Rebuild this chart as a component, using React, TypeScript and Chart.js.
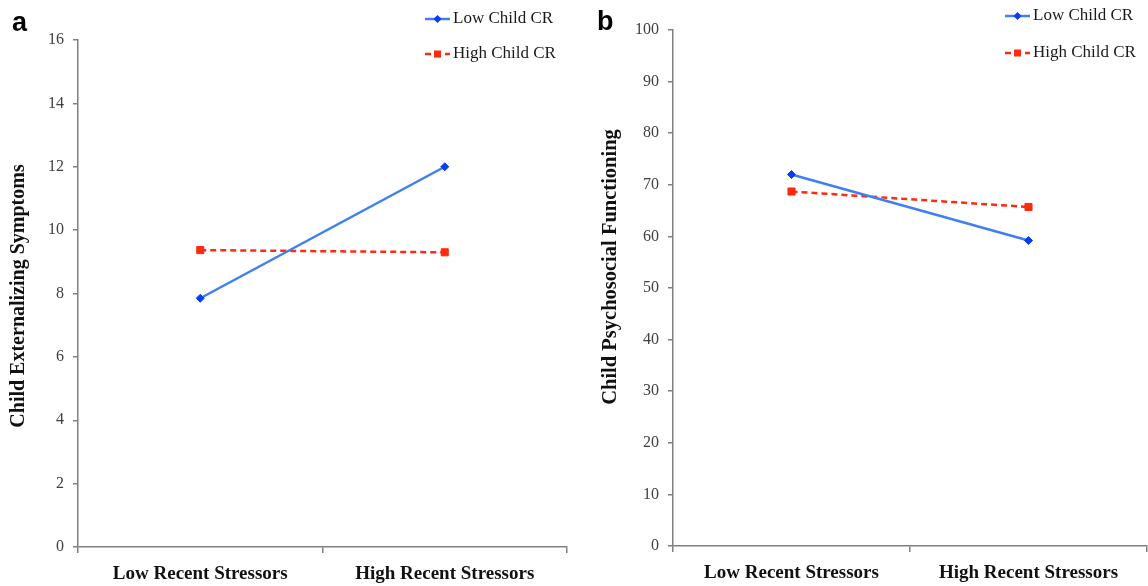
import React, { useEffect, useRef } from 'react';
import { Chart, registerables } from 'chart.js';

Chart.register(...registerables);

// ---- data ----
const categories = ['Low Recent Stressors', 'High Recent Stressors'];
const seriesNames = ['Low Child CR', 'High Child CR'];
const externalizingLowCR = [7.85, 12.0];
const externalizingHighCR = [9.37, 9.3];
const psychosocialLowCR = [72.0, 59.2];
const psychosocialHighCR = [68.7, 65.7];
const externalizingAxis = { max: 16, step: 2 };
const psychosocialAxis = { max: 100, step: 10 };

const SERIF = "'Liberation Serif', 'Times New Roman', serif";
const AXIS_GRAY = '#808080';

const legendPlugin = {
  id: 'lineLegend',
  afterDraw(chart: any, _args: any, opts: any) {
    const ctx = chart.ctx;
    chart.data.datasets.forEach((ds: any, i: number) => {
      const y = opts.y0 + i * opts.dy;
      const x0 = opts.x;
      const x1 = opts.x + opts.lineLen;
      ctx.save();
      ctx.strokeStyle = ds.borderColor;
      ctx.lineWidth = ds.borderWidth;
      ctx.setLineDash(ds.borderDash || []);
      ctx.beginPath();
      ctx.moveTo(x0, y);
      ctx.lineTo(x1, y);
      ctx.stroke();
      ctx.setLineDash([]);
      const cx = (x0 + x1) / 2;
      ctx.fillStyle = ds.pointBackgroundColor;
      if (ds.pointStyle === 'rectRot') {
        const r = ds.pointRadius;
        ctx.beginPath();
        ctx.moveTo(cx, y - r);
        ctx.lineTo(cx + r, y);
        ctx.lineTo(cx, y + r);
        ctx.lineTo(cx - r, y);
        ctx.closePath();
        ctx.fill();
      } else {
        const s = ds.pointRadius * 1.4;
        ctx.fillRect(cx - s / 2, y - s / 2, s, s);
      }
      ctx.fillStyle = '#1a1a1a';
      ctx.font = `17px ${SERIF}`;
      ctx.textBaseline = 'middle';
      ctx.textAlign = 'left';
      ctx.fillText(seriesNames[i], x1 + 3, y);
      ctx.restore();
    });
  },
};

const yTitlePlugin = {
  id: 'yTitle',
  afterDraw(chart: any, _args: any, opts: any) {
    const ctx = chart.ctx;
    ctx.save();
    ctx.translate(opts.x, opts.y);
    ctx.rotate(-Math.PI / 2);
    ctx.fillStyle = '#111';
    ctx.font = `bold ${opts.size}px ${SERIF}`;
    ctx.textAlign = 'center';
    ctx.textBaseline = 'middle';
    ctx.fillText(opts.text, 0, 0);
    ctx.restore();
  },
};

type PanelProps = {
  left: number;
  width: number;
  height: number;
  title: string;
  low: number[];
  high: number[];
  axis: { max: number; step: number };
  axisX: number;
  top: number;
  bottom: number;
  titleX: number;
  titleY: number;
  titleSize: number;
  rightPad: number;
  legendX: number;
  legendY: number;
  legendDy: number;
};

function Panel(p: PanelProps) {
  const ref = useRef<HTMLCanvasElement>(null);
  useEffect(() => {
    if (!ref.current) return;
    const chart = new Chart(ref.current, {
      type: 'line',
      data: {
        labels: categories,
        datasets: [
          {
            label: seriesNames[0],
            data: p.low,
            borderColor: '#3f7ff2',
            borderWidth: 2.5,
            pointStyle: 'rectRot',
            pointRadius: 4,
            pointBackgroundColor: '#0a3cf5',
            pointBorderColor: '#0a3cf5',
            pointBorderWidth: 1,
          },
          {
            label: seriesNames[1],
            data: p.high,
            borderColor: '#ff2a10',
            borderWidth: 2.5,
            borderDash: [6, 4],
            pointStyle: 'rect',
            pointRadius: 5,
            pointBackgroundColor: '#ff2a10',
            pointBorderColor: '#ff2a10',
            pointBorderWidth: 1,
          },
        ],
      },
      options: {
        responsive: false,
        animation: false,
        devicePixelRatio: 1,
        layout: { padding: { top: p.top, right: p.rightPad, left: 0, bottom: 0 } },
        plugins: {
          legend: { display: false },
          tooltip: { enabled: false },
          lineLegend: { x: p.legendX, y0: p.legendY, dy: p.legendDy, lineLen: 25 },
          yTitle: { text: p.title, x: p.titleX, y: p.titleY, size: p.titleSize },
        } as any,
        scales: {
          x: {
            type: 'category',
            offset: true,
            grid: {
              offset: true,
              drawOnChartArea: false,
              tickLength: 6,
              color: AXIS_GRAY,
              lineWidth: 1.5,
            },
            border: { color: AXIS_GRAY, width: 1.5 },
            ticks: {
              font: { family: SERIF, size: 19, weight: 'bold' },
              color: '#111',
              padding: 10,
              maxRotation: 0,
            },
            afterFit(scale: any) {
              scale.height = p.height - p.bottom;
            },
          },
          y: {
            min: 0,
            max: p.axis.max,
            ticks: {
              stepSize: p.axis.step,
              font: { family: SERIF, size: 16 },
              color: '#404040',
              padding: 9,
            },
            grid: {
              drawOnChartArea: false,
              tickLength: 5,
              color: AXIS_GRAY,
              lineWidth: 1.5,
            },
            border: { color: AXIS_GRAY, width: 1.5 },
            title: { display: false },
            afterFit(scale: any) {
              scale.width = p.axisX;
            },
          },
        },
      },
      plugins: [legendPlugin, yTitlePlugin],
    });
    return () => chart.destroy();
  }, []);
  return (
    <canvas
      ref={ref}
      width={p.width}
      height={p.height}
      style={{ position: 'absolute', left: p.left, top: 0, width: p.width, height: p.height }}
    />
  );
}

const letterStyle: React.CSSProperties = {
  position: 'absolute',
  fontFamily: "'Liberation Sans', Arial, sans-serif",
  fontWeight: 'bold',
  fontSize: 27,
  lineHeight: '27px',
  color: '#000',
};

export default function App() {
  return (
    <div
      style={{
        position: 'absolute',
        left: 0,
        top: 0,
        width: 1148,
        height: 586,
        overflow: 'hidden',
        background: '#fff',
      }}
    >
      <Panel
        left={0}
        width={575}
        height={586}
        title="Child Externalizing Symptoms"
        low={externalizingLowCR}
        high={externalizingHighCR}
        axis={externalizingAxis}
        axisX={78}
        top={40}
        bottom={547}
        titleX={19}
        titleY={296}
        titleSize={20}
        rightPad={8}
        legendX={425}
        legendY={19}
        legendDy={35}
      />
      <Panel
        left={575}
        width={578}
        height={586}
        title="Child Psychosocial Functioning"
        low={psychosocialLowCR}
        high={psychosocialHighCR}
        axis={psychosocialAxis}
        axisX={98}
        top={30}
        bottom={546}
        titleX={36}
        titleY={267}
        titleSize={20.5}
        rightPad={0}
        legendX={430}
        legendY={16}
        legendDy={37}
      />
      <div style={{ ...letterStyle, left: 12, top: 9 }}>a</div>
      <div style={{ ...letterStyle, left: 597, top: 8 }}>b</div>
    </div>
  );
}
